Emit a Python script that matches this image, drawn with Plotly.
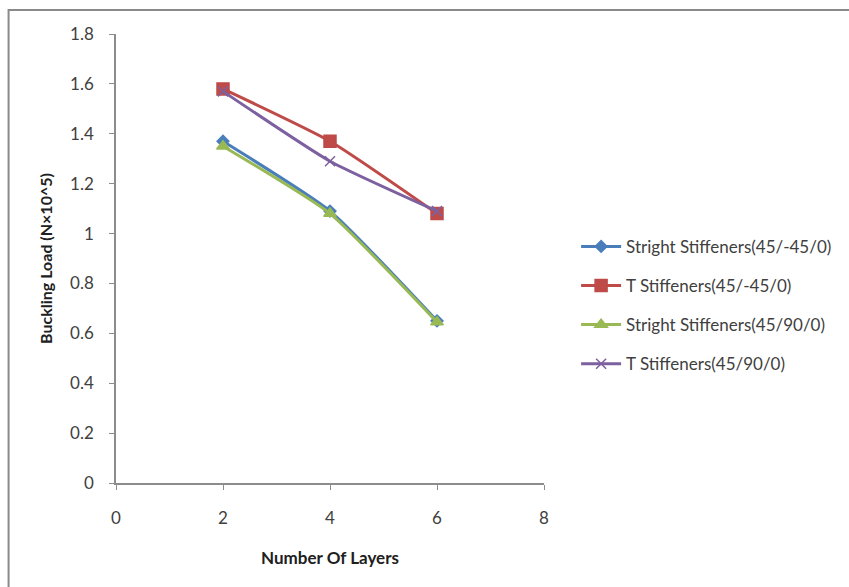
import plotly.graph_objects as go

layers = [2, 4, 6]
straight_45_m45 = [1.37, 1.09, 0.65]
t_45_m45 = [1.58, 1.37, 1.08]
straight_45_90 = [1.35, 1.08, 0.645]
t_45_90 = [1.57, 1.29, 1.09]

names = ["Stright Stiffeners(45/-45/0)", "T Stiffeners(45/-45/0)",
         "Stright Stiffeners(45/90/0)", "T Stiffeners(45/90/0)"]
series = [straight_45_m45, t_45_m45, straight_45_90, t_45_90]
colors = ["#4A7EBB", "#BE4B48", "#98B954", "#7D60A0"]
symbols = ["diamond", "square", "triangle-up", "x-thin"]
msizes = [9, 12, 11, 10]

fig = go.Figure()
for i, (n, s, c, sym, ms) in enumerate(zip(names, series, colors, symbols, msizes)):
    fig.add_trace(go.Scatter(
        x=layers, y=s, name=n, mode="lines+markers",
        line=dict(color=c, width=3, shape="spline", smoothing=0.5),
        marker=dict(symbol=sym, size=ms, color=c, line=dict(color=c, width=1.5)),
        legendgroup=str(i),
    ))

font = "Lato, 'Open Sans', sans-serif"
fig.update_layout(
    width=849, height=587,
    margin=dict(l=116, r=303, t=34, b=104),
    plot_bgcolor="white", paper_bgcolor="white",
    font=dict(family=font, size=17, color="#404040"),
    showlegend=True,
    legend=dict(x=1.075, y=0.566, xanchor="left", yanchor="top",
                font=dict(size=17, color="#404040"),
                traceorder="grouped", tracegroupgap=14, itemwidth=40),
    xaxis=dict(range=[0, 8], tickvals=[0, 2, 4, 6, 8], showgrid=False, zeroline=False,
               showline=True, linecolor="#8c8c8c", linewidth=1.5,
               ticks="outside", ticklen=5, tickcolor="#8c8c8c",
               ticklabelstandoff=14,
               tickfont=dict(size=17, color="#404040"),
               title=dict(text="<b>Number Of Layers</b>", font=dict(size=17, color="#202020"), standoff=25)),
    yaxis=dict(range=[0, 1.8], tickvals=[0, 0.2, 0.4, 0.6, 0.8, 1, 1.2, 1.4, 1.6, 1.8],
               ticktext=["0", "0.2", "0.4", "0.6", "0.8", "1", "1.2", "1.4", "1.6", "1.8"],
               showgrid=False, zeroline=False,
               showline=True, linecolor="#8c8c8c", linewidth=1.5,
               ticks="outside", ticklen=5, tickcolor="#8c8c8c",
               ticklabelstandoff=12,
               tickfont=dict(size=17, color="#404040"),
               title=dict(text="<b>Buckling Load (N×10^5)</b>", font=dict(size=16, color="#202020"), standoff=14)),
    shapes=[dict(type="rect", xref="paper", yref="paper",
                 x0=-0.251, x1=1.75, y0=-0.3, y1=1.0535,
                 line=dict(color="#8a8a8a", width=2))],
)

fig.write_html("out.html")
